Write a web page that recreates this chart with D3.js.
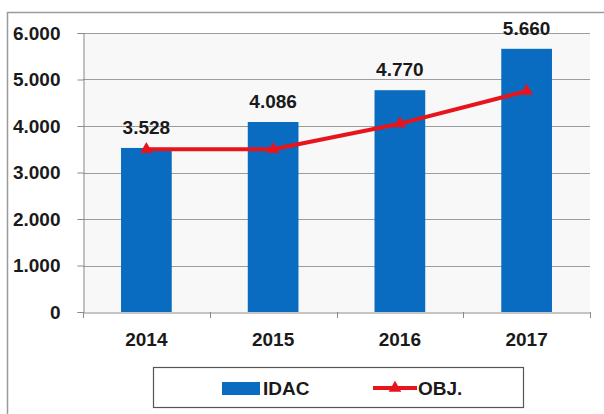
<!DOCTYPE html>
<html>
<head>
<meta charset="utf-8">
<script src="https://cdn.jsdelivr.net/npm/d3@7"></script>
<style>
  html, body { margin: 0; padding: 0; background: #ffffff; }
  svg { display: block; }
  text { font-family: "Liberation Sans", Arial, sans-serif; font-weight: bold; fill: #1a1a1a; }
</style>
</head>
<body>
<svg id="chart" width="604" height="414"></svg>
<script>
const categories = ["2014", "2015", "2016", "2017"];
const idacValues = [3528, 4086, 4770, 5660];
const objValues = [3500, 3500, 4050, 4750];
const yTicks = [0, 1000, 2000, 3000, 4000, 5000, 6000];
const seriesNames = ["IDAC", "OBJ."];

const fmt = v => d3.format(",")(v).replace(/,/g, ".");

const svg = d3.select("#chart");
const W = 604, H = 414;
const plot = { left: 83, right: 590, top: 33, bottom: 312 };

// outer frame
svg.append("rect").attr("x", 7.5).attr("y", 12.5).attr("width", 620).attr("height", 420)
  .attr("fill", "#ffffff").attr("stroke", "#9a9a9a").attr("stroke-width", 1.5);

const x = d3.scaleBand().domain(categories).range([plot.left, plot.right]).paddingInner(0.6).paddingOuter(0.3);
const xc = d3.scaleBand().domain(categories).range([plot.left, plot.right]);
const y = d3.scaleLinear().domain([0, 6000]).range([plot.bottom, plot.top]);

// plot background
svg.append("rect").attr("x", plot.left).attr("y", plot.top)
  .attr("width", plot.right - plot.left).attr("height", plot.bottom - plot.top)
  .attr("fill", "#f8f8f8");

// gridlines
svg.append("g").selectAll("line").data(yTicks.filter(d => d > 0)).join("line")
  .attr("x1", plot.left).attr("x2", plot.right)
  .attr("y1", d => Math.round(y(d)) + 0.5).attr("y2", d => Math.round(y(d)) + 0.5)
  .attr("stroke", "#9c9c9c").attr("stroke-width", 1);

// y axis
const yAxis = svg.append("g").attr("transform", `translate(${plot.left + 0.5},0)`)
  .call(d3.axisLeft(y).tickValues(yTicks).tickFormat(fmt).tickSize(6).tickPadding(17));
yAxis.select(".domain").attr("stroke", "#8a8a8a");
yAxis.selectAll(".tick line").attr("stroke", "#8a8a8a");
yAxis.selectAll("text").attr("font-size", 19).attr("font-family", "Liberation Sans, Arial, sans-serif")
  .attr("font-weight", "bold").attr("fill", "#1a1a1a");

// x axis
const xAxis = svg.append("g").attr("transform", `translate(0,${plot.bottom + 0.5})`)
  .call(d3.axisBottom(xc).tickSize(0).tickPadding(20));
xAxis.select(".domain").attr("stroke", "#8a8a8a");
xAxis.selectAll("text").attr("font-size", 19).attr("font-family", "Liberation Sans, Arial, sans-serif")
  .attr("font-weight", "bold").attr("fill", "#1a1a1a");
// category separator ticks
const sepPositions = categories.map(c => xc(c)).concat([xc(categories[categories.length - 1]) + xc.bandwidth()]);
svg.append("g").selectAll("line").data(sepPositions).join("line")
  .attr("x1", d => Math.round(d) + 0.5).attr("x2", d => Math.round(d) + 0.5)
  .attr("y1", plot.bottom).attr("y2", plot.bottom + 6)
  .attr("stroke", "#8a8a8a");

// bars
svg.append("g").selectAll("rect").data(categories).join("rect")
  .attr("x", d => x(d)).attr("width", x.bandwidth())
  .attr("y", (d, i) => y(idacValues[i])).attr("height", (d, i) => y(0) - y(idacValues[i]))
  .attr("fill", "#0a6cc0");

// bar labels
svg.append("g").selectAll("text").data(categories).join("text")
  .attr("x", d => x(d) + x.bandwidth() / 2)
  .attr("y", (d, i) => y(idacValues[i]) - 14)
  .attr("text-anchor", "middle").attr("font-size", 19)
  .text((d, i) => fmt(idacValues[i]));

// OBJ line
const line = d3.line().x((d, i) => xc(categories[i]) + xc.bandwidth() / 2).y(d => y(d));
svg.append("path").datum(objValues).attr("d", line)
  .attr("fill", "none").attr("stroke", "#e8141c").attr("stroke-width", 4).attr("stroke-linejoin", "round");
const tri = d3.symbol().type(d3.symbolTriangle).size(70);
svg.append("g").selectAll("path").data(objValues).join("path")
  .attr("d", tri)
  .attr("transform", (d, i) => `translate(${xc(categories[i]) + xc.bandwidth() / 2},${y(d)})`)
  .attr("fill", "#e8141c");

// legend
const lg = svg.append("g");
lg.append("rect").attr("x", 153.5).attr("y", 367.5).attr("width", 370).attr("height", 40)
  .attr("fill", "#ffffff").attr("stroke", "#555555").attr("stroke-width", 1.2);
lg.append("rect").attr("x", 222).attr("y", 382).attr("width", 38).attr("height", 13).attr("fill", "#0a6cc0");
lg.append("text").attr("x", 263).attr("y", 395).attr("font-size", 19).text(seriesNames[0]);
lg.append("line").attr("x1", 373).attr("x2", 417).attr("y1", 388).attr("y2", 388)
  .attr("stroke", "#e8141c").attr("stroke-width", 4);
lg.append("path").attr("d", tri).attr("transform", "translate(395,388)").attr("fill", "#e8141c");
lg.append("text").attr("x", 418).attr("y", 395).attr("font-size", 19).text(seriesNames[1]);
</script>
</body>
</html>
